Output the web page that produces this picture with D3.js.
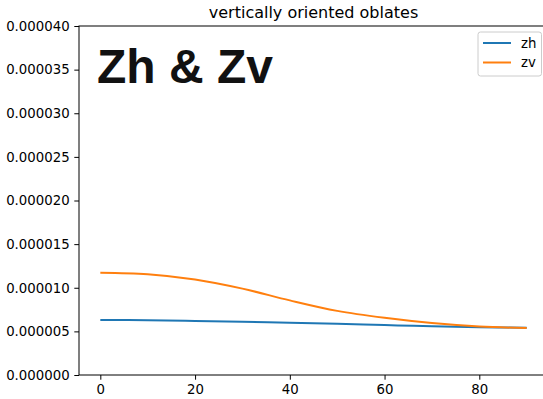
<!DOCTYPE html>
<html>
<head>
<meta charset="utf-8">
<script src="https://cdn.jsdelivr.net/npm/d3@7"></script>
<style>
  body { margin: 0; background: #fff; }
  text { font-family: "DejaVu Sans", sans-serif; }
</style>
</head>
<body>
<svg id="viz" width="543" height="399"></svg>
<script>
// angle (deg) and values (units of 1e-6)
var angles = [0, 10, 20, 30, 40, 50, 60, 70, 80, 90];
var zh = [6.31, 6.28, 6.2, 6.1, 6.0, 5.87, 5.72, 5.6, 5.48, 5.42];
var zv = [11.73, 11.55, 10.95, 9.9, 8.55, 7.35, 6.55, 5.95, 5.55, 5.38];
var yTicks = [0, 0.000005, 0.00001, 0.000015, 0.00002, 0.000025, 0.00003, 0.000035, 0.00004];
var xTicks = [0, 20, 40, 60, 80];
var seriesNames = ["zh", "zv"];
var colors = ["#1f77b4", "#ff7f0e"];

(function () {
    'use strict';
    var svg = d3.select("#viz");
    var margin = { top: 26, left: 79, right: 548, bottom: 375 }; // plot box edges

    var xScale = d3.scaleLinear().domain([-4.5, 94.5]).range([margin.left, margin.right]);
    var yScale = d3.scaleLinear().domain([0, 0.00004]).range([margin.bottom, margin.top]);

    var xAxis = d3.axisBottom(xScale).tickValues(xTicks).tickSize(4.7).tickPadding(4.7);
    var yAxis = d3.axisLeft(yScale).tickValues(yTicks).tickSize(4.7).tickPadding(4.7)
        .tickFormat(d3.format(".6f"));

    var gx = svg.append("g").attr("class", "x axis")
        .attr("transform", "translate(0," + margin.bottom + ")")
        .call(xAxis);
    var gy = svg.append("g").attr("class", "y axis")
        .attr("transform", "translate(" + margin.left + ",0)")
        .call(yAxis);
    [gx, gy].forEach(function (g) {
        g.select(".domain").remove();
        g.selectAll("text").attr("font-size", "13.3px").attr("fill", "#000")
            .style("font-family", "DejaVu Sans");
        g.selectAll("line").attr("stroke", "#000").attr("stroke-width", 1);
    });

    // frame
    svg.append("rect")
        .attr("x", margin.left).attr("y", margin.top)
        .attr("width", margin.right - margin.left)
        .attr("height", margin.bottom - margin.top)
        .attr("fill", "none").attr("stroke", "#000").attr("stroke-width", 1);

    // LINES
    var line = d3.line()
        .x(function (d) { return xScale(d.a); })
        .y(function (d) { return yScale(d.v * 1e-6); })
        .curve(d3.curveCatmullRom);
    [zh, zv].forEach(function (vals, i) {
        var pts = angles.map(function (a, j) { return { a: a, v: vals[j] }; });
        svg.append("path").datum(pts)
            .attr("d", line)
            .attr("fill", "none")
            .attr("stroke", colors[i])
            .attr("stroke-width", 2);
    });

    // title
    svg.append("text")
        .attr("x", (margin.left + margin.right) / 2).attr("y", 18)
        .attr("text-anchor", "middle").attr("font-size", "16px").attr("fill", "#000")
        .text("vertically oriented oblates");

    // big label
    svg.append("text")
        .attr("x", 97).attr("y", 83)
        .style("font-family", "Liberation Sans, Arial, sans-serif")
        .attr("font-weight", "bold").attr("font-size", "48px").attr("fill", "#111")
        .text("Zh & Zv");

    // LEGEND
    var lg = svg.append("g").attr("transform", "translate(478,32)");
    lg.append("rect").attr("width", 63.5).attr("height", 44).attr("rx", 2.5)
        .attr("fill", "#fff").attr("fill-opacity", 0.8)
        .attr("stroke", "#ccc").attr("stroke-width", 1);
    seriesNames.forEach(function (name, i) {
        var y = 11 + i * 19.5;
        lg.append("line").attr("x1", 5).attr("x2", 33).attr("y1", y).attr("y2", y)
            .attr("stroke", colors[i]).attr("stroke-width", 2);
        lg.append("text").attr("x", 43).attr("y", y + 4.5)
            .attr("font-size", "13.3px").attr("fill", "#000").text(name);
    });
}());
</script>
</body>
</html>
